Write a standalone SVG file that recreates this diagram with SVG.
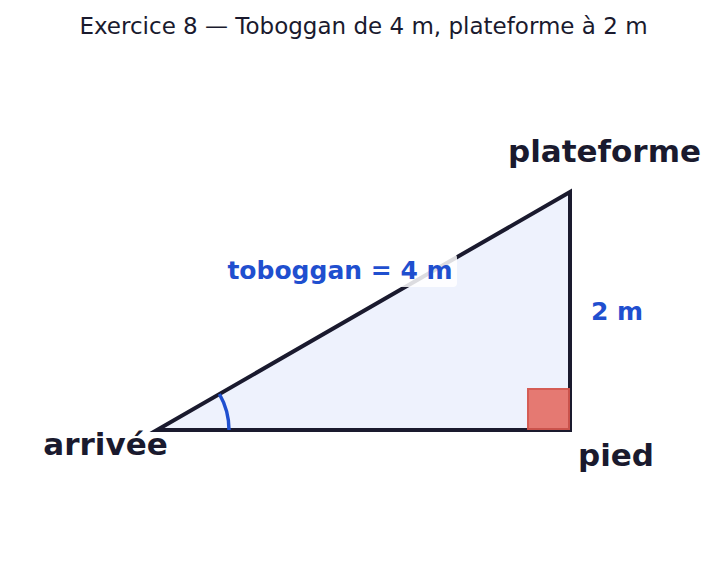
<svg xmlns="http://www.w3.org/2000/svg" width="727" height="588" viewBox="0 0 727 588">
<style>
.lbl{font-family:"DejaVu Sans","Liberation Sans",sans-serif;font-weight:bold;font-size:31px;fill:#1a1a2e}
.meas{font-family:"DejaVu Sans","Liberation Sans",sans-serif;font-weight:bold;font-size:25px;fill:#1f4fcf}
.title{font-family:"DejaVu Sans","Liberation Sans",sans-serif;font-size:23px;fill:#1a1a2e}
</style>
<rect width="727" height="588" fill="#ffffff"/>
<text class="title" x="363.5" y="34" text-anchor="middle">Exercice 8 — Toboggan de 4 m, plateforme à 2 m</text>
<g id="triangle">
<polygon points="157,430 570,430 570,192" fill="#eef2fd" stroke="#1a1a2e" stroke-width="4" stroke-linejoin="miter"/>
</g>
<g id="right-angle">
<rect x="528" y="389" width="41" height="40" fill="#e5736b" stroke="#d4564d" stroke-width="2" opacity="0.95"/>
</g>
<g id="angle">
<path d="M 219.4 394 A 72 72 0 0 1 229 430" fill="none" stroke="#1f4fcf" stroke-width="3.5"/>
</g>
<g id="label-toboggan">
<rect x="222" y="254" width="235" height="33" rx="4" fill="#ffffff" opacity="0.85"/>
<text class="meas" x="340" y="279" text-anchor="middle">toboggan = 4 m</text>
</g>
<g id="label-2m">
<text class="meas" x="591" y="320">2 m</text>
</g>
<g id="node-plateforme"><text class="lbl" x="604.5" y="162" text-anchor="middle">plateforme</text></g>
<g id="node-arrivee"><text class="lbl" x="105.5" y="455" text-anchor="middle">arrivée</text></g>
<g id="node-pied"><text class="lbl" x="616" y="466" text-anchor="middle">pied</text></g>
</svg>
